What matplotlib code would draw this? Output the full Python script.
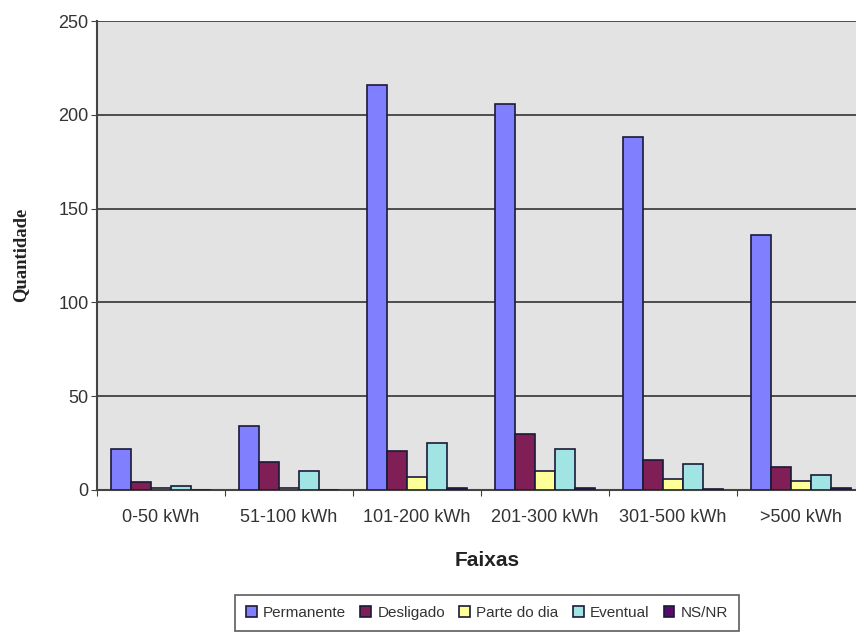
import matplotlib.pyplot as plt
import numpy as np

plt.rcParams['font.family'] = ['Liberation Sans', 'DejaVu Sans']

faixas = ['0-50 kWh', '51-100 kWh', '101-200 kWh', '201-300 kWh', '301-500 kWh', '>500 kWh']
series = ['Permanente', 'Desligado', 'Parte do dia', 'Eventual', 'NS/NR']

permanente = [22, 34, 216, 206, 188, 136]
desligado = [4, 15, 21, 30, 16, 12]
parte_do_dia = [1, 1, 7, 10, 6, 5]
eventual = [2, 10, 25, 22, 14, 8]
ns_nr = [0, 0, 1, 1, 0.5, 1]

cores = ['#8080ff', '#7f1f55', '#ffff99', '#a0e4e4', '#5a0a6a']
valores = [permanente, desligado, parte_do_dia, eventual, ns_nr]

fig = plt.figure(figsize=(8.56, 6.32), dpi=100)
ax = fig.add_axes([97/856, 1-490/632, 768/856, 469/632])
ax.set_facecolor('#e3e3e3')

x = np.arange(len(faixas)) + 0.5
w = 0.156
for k, (nome, vals, cor) in enumerate(zip(series, valores, cores)):
    ax.bar(x + (k-2)*w, vals, w, color=cor, edgecolor='#1a1a3a', linewidth=1.2,
           label=nome, zorder=3)

ax.set_xlim(0, 6)
ax.set_ylim(0, 250)
ax.set_yticks(range(0, 251, 50))
ax.yaxis.grid(True, color='#333333', linewidth=1.2, zorder=1)
ax.set_xticks(range(0, 7), minor=False)
ax.set_xticklabels([''] * 7)
ax.set_xticks(x, minor=True)
ax.set_xticklabels(faixas, minor=True)
ax.tick_params(axis='x', which='minor', length=0, pad=14, labelsize=13, labelcolor='#333333')
ax.tick_params(axis='x', which='major', length=4, direction='out', color='#444444')
ax.tick_params(axis='y', length=4, pad=2, direction='out', color='#444444', labelsize=13,
               labelcolor='#333333')
for s in ['top', 'right']:
    ax.spines[s].set_visible(False)
ax.spines['left'].set_color('#444444')
ax.spines['left'].set_linewidth(1.5)
ax.spines['bottom'].set_color('#444444')
ax.spines['bottom'].set_linewidth(1.5)

fig.text(21/856, 1-255/632, 'Quantidade', rotation=90, ha='center', va='center',
         fontsize=13.4, fontweight='bold', family='Liberation Serif', color='#222222')
fig.text(487/856, 1-561/632, 'Faixas', ha='center', va='center', fontsize=15,
         fontweight='bold', color='#222222')

leg = fig.legend(loc='center', bbox_to_anchor=(487/856, 1-613/632), ncol=5,
                 fontsize=11, frameon=True, fancybox=False, edgecolor='#333333',
                 handlelength=0.7, handleheight=0.7, handletextpad=0.4,
                 columnspacing=0.95, borderpad=0.7)
leg.get_frame().set_linewidth(1.2)
for t in leg.get_texts():
    t.set_color('#333333')

fig.savefig('out.png', dpi=100)
